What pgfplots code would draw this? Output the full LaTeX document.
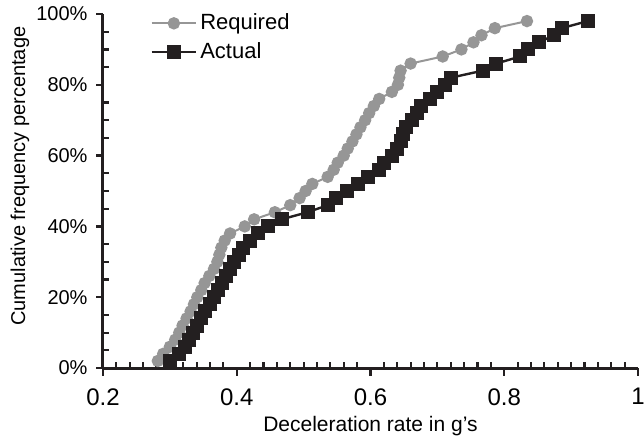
\documentclass[border=0pt]{standalone}
\usepackage{pgfplots}
\pgfplotsset{compat=1.18}
\usepackage{fontspec}
\setmainfont{Liberation Sans}
\definecolor{reqgrey}{RGB}{150,150,150}
\definecolor{actblack}{RGB}{35,31,32}
\begin{document}
\begin{tikzpicture}
\begin{axis}[
  scale only axis,
  width=267.5pt, height=177pt,
  xmin=0.2, xmax=1, ymin=0, ymax=100,
  axis x line=bottom, axis y line=left,
  axis line style={line width=1.5pt, -, color=actblack},
  xtick={0.2,0.4,0.6,0.8,1},
  xticklabels={0.2,0.4,0.6,0.8,1},
  ytick={0,20,40,60,80,100},
  yticklabels={0\%,20\%,40\%,60\%,80\%,100\%},
  major tick length=0pt,
  xticklabel style={font=\fontsize{12}{14}\selectfont, anchor=north, yshift=-6.7pt},
  yticklabel style={font=\fontsize{10}{12}\selectfont, anchor=east, xshift=-4.2pt},
  xlabel={Deceleration rate in g's},
  ylabel={Cumulative frequency percentage},
  xlabel style={font=\fontsize{10.5}{12}\selectfont, at={(axis description cs:0.5,0)}, anchor=base, yshift=-31.5pt},
  ylabel style={font=\fontsize{10}{12}\selectfont, at={(axis description cs:-0.155,0.542)}, anchor=center, rotate=0},
  /pgf/number format/assume math mode=true,
  legend style={at={(axis description cs:0.088,1.01)}, anchor=north west, draw=none, fill=none,
    font=\fontsize{11}{13}\selectfont, row sep=2pt, inner sep=0pt,
    nodes={inner sep=1.5pt}},
  legend cell align=left,
  legend image code/.code={\draw[mark repeat=2,mark phase=2]
    plot coordinates {(0cm,0cm) (0.39cm,0cm) (0.78cm,0cm)};},
  clip=false,
]
\addplot[color=reqgrey, line width=1pt, mark=*, mark size=2.6pt,
  mark options={fill=reqgrey, draw=reqgrey}] coordinates {
(0.282,2) (0.290,4) (0.300,6) (0.308,8) (0.314,10) (0.319,12) (0.325,14)
(0.331,16) (0.336,18) (0.341,20) (0.347,22) (0.352,24) (0.359,26) (0.366,28)
(0.371,30) (0.374,32) (0.377,34) (0.382,36) (0.390,38) (0.412,40) (0.426,42)
(0.457,44) (0.480,46) (0.494,48) (0.503,50) (0.513,52) (0.536,54) (0.545,56)
(0.551,58) (0.560,60) (0.566,62) (0.573,64) (0.579,66) (0.585,68) (0.592,70)
(0.598,72) (0.605,74) (0.613,76) (0.632,78) (0.641,80) (0.643,82) (0.645,84)
(0.660,86) (0.708,88) (0.736,90) (0.754,92) (0.766,94) (0.786,96) (0.834,98)
};
\addlegendentry{Required}
\addplot[color=actblack, line width=1.2pt, mark=square*, mark size=2.9pt,
  mark options={fill=actblack, draw=actblack}] coordinates {
(0.300,2) (0.314,4) (0.322,6) (0.328,8) (0.334,10) (0.341,12) (0.347,14)
(0.353,16) (0.360,18) (0.366,20) (0.372,22) (0.378,24) (0.384,26) (0.390,28)
(0.396,30) (0.403,32) (0.410,34) (0.420,36) (0.432,38) (0.447,40) (0.467,42)
(0.506,44) (0.536,46) (0.549,48) (0.565,50) (0.582,52) (0.597,54) (0.612,56)
(0.620,58) (0.632,60) (0.640,62) (0.645,64) (0.648,66) (0.653,68) (0.662,70)
(0.670,72) (0.676,74) (0.689,76) (0.700,78) (0.712,80) (0.720,82) (0.768,84)
(0.788,86) (0.824,88) (0.836,90) (0.852,92) (0.874,94) (0.886,96) (0.925,98)
};
\addlegendentry{Actual}
% axis ticks
\pgfplotsinvokeforeach{0.2,0.4,0.6,0.8,1}{
  \draw[line width=1.2pt, actblack] (axis cs:#1,0) -- ++(0pt,-4pt);}
\pgfplotsinvokeforeach{0.22,0.24,0.26,0.28,0.30,0.32,0.34,0.36,0.38,
  0.42,0.44,0.46,0.48,0.50,0.52,0.54,0.56,0.58,
  0.62,0.64,0.66,0.68,0.70,0.72,0.74,0.76,0.78,
  0.82,0.84,0.86,0.88,0.90,0.92,0.94,0.96,0.98}{
  \draw[line width=1.1pt, actblack] (axis cs:#1,0) -- ++(0pt,2.8pt);}
\pgfplotsinvokeforeach{0,20,40,60,80,100}{
  \draw[line width=1.2pt, actblack] (axis cs:0.2,#1) -- ++(-3.6pt,0pt);}
\pgfplotsinvokeforeach{5,10,15,25,30,35,45,50,55,65,70,75,85,90,95}{
  \draw[line width=1.1pt, actblack] (axis cs:0.2,#1) -- ++(2.8pt,0pt);}
\end{axis}
\pgfresetboundingbox
\path[use as bounding box] (-51.5pt,-36pt) rectangle (270.5pt,184pt);
\end{tikzpicture}
\end{document}
